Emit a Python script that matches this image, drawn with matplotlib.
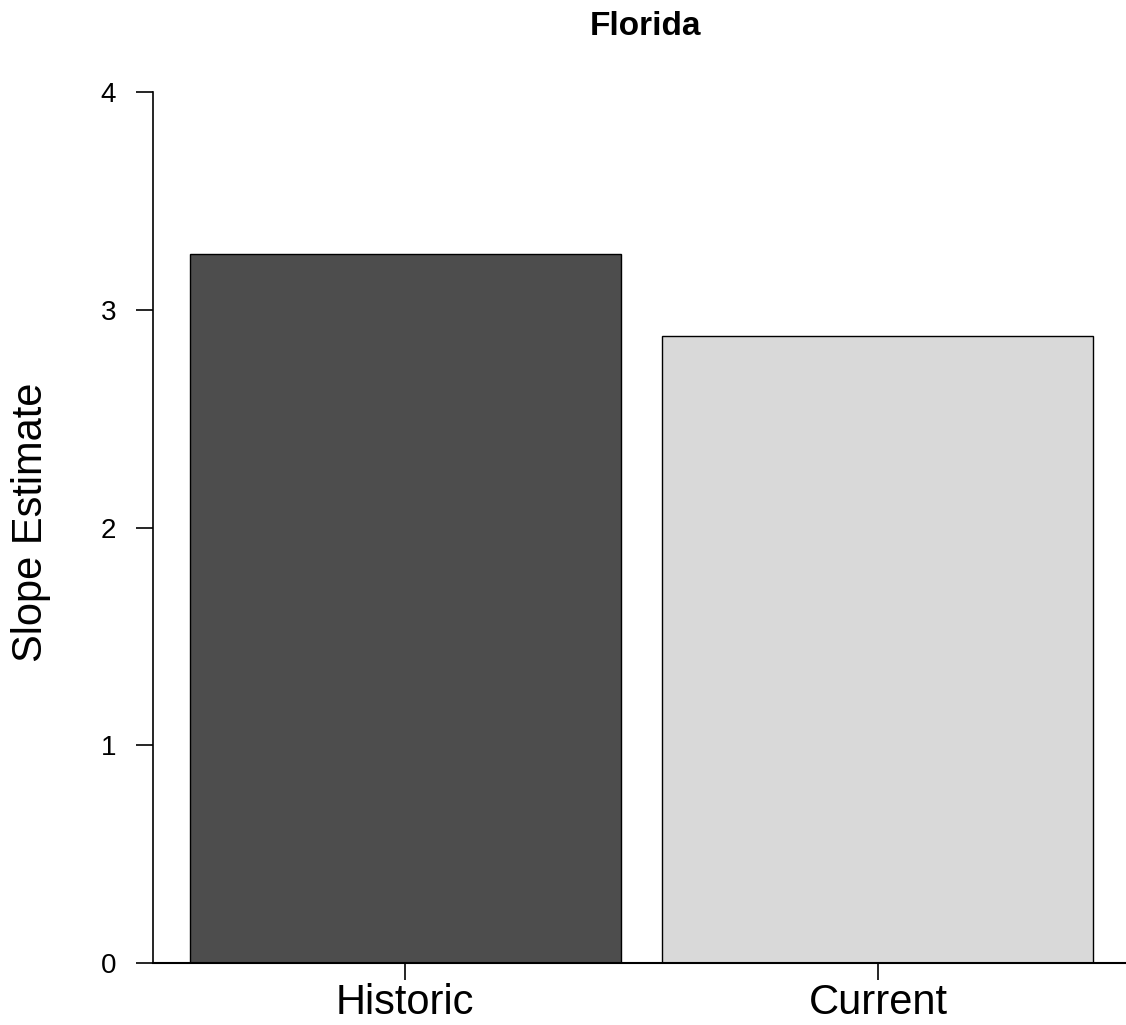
import matplotlib
matplotlib.use("Agg")
import matplotlib.pyplot as plt

categories = ["Historic", "Current"]
values = [3.256, 2.879]
colors = ["#4D4D4D", "#D9D9D9"]
yticks = [0, 1, 2, 3, 4]

plt.rcParams['font.family'] = ['Liberation Sans', 'DejaVu Sans']

W, H = 1126, 1025
fig = plt.figure(figsize=(W / 100, H / 100), dpi=100)
ax = fig.add_axes([153 / W, 1 - 963 / H, (1126 - 153) / W, (963 - 92) / H])

x = list(range(len(categories)))
ax.bar(x, values, width=0.912, color=colors, edgecolor="black", linewidth=1.0, zorder=2)

ax.set_xlim(-0.534, 1.525)
ax.set_ylim(0, 4)
ax.set_yticks(yticks)
ax.set_yticklabels([str(t) for t in yticks])
ax.set_xticks(x)
ax.set_xticklabels(categories)

for s in ["top", "right"]:
    ax.spines[s].set_visible(False)
ax.spines["left"].set_linewidth(1.2)
ax.spines["bottom"].set_linewidth(1.5)
ax.spines["bottom"].set_zorder(3)

ax.tick_params(axis="y", direction="out", length=12.5, width=1.2, labelsize=20, pad=14)
ax.tick_params(axis="x", direction="out", length=12.5, width=1.2, labelsize=30, pad=2)

fig.text(42 / W, 1 - 522.5 / H, "Slope Estimate", fontsize=30, rotation=90,
         rotation_mode="anchor", ha="center", va="baseline")

fig.text(645 / W, 1 - 35 / H, "Florida", fontsize=24, fontweight="bold",
         ha="center", va="baseline")

fig.savefig("out.png", dpi=100)
